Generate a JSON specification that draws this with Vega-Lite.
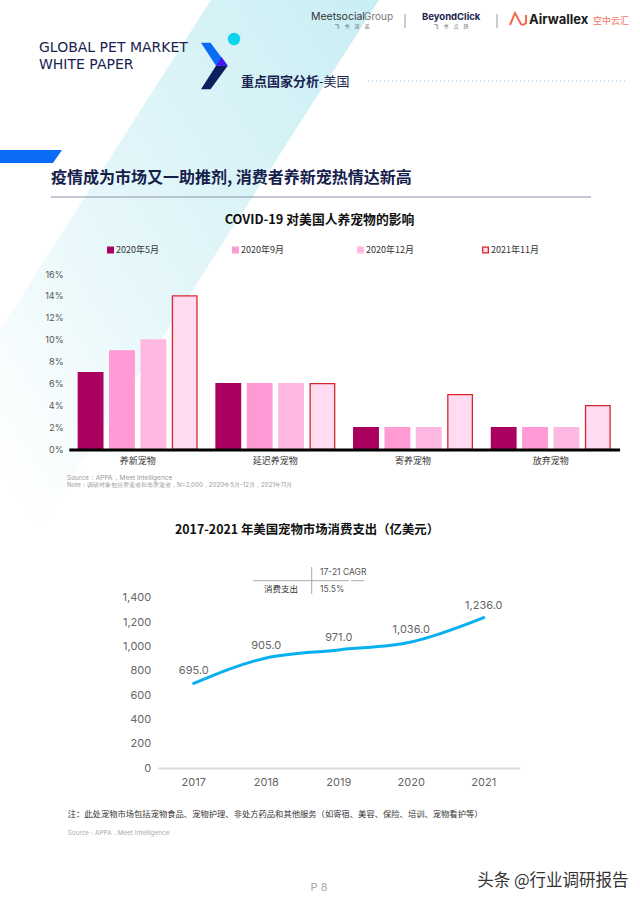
{
  "$schema": "https://vega.github.io/schema/vega-lite/v6.json",
  "width": 640,
  "height": 903,
  "padding": 0,
  "autosize": {"type": "fit", "contains": "padding"},
  "background": "white",
  "config": {"view": {"stroke": null}, "font": "Noto Sans CJK SC"},
  "resolve": {
    "scale": {"x": "independent", "y": "independent"},
    "axis": {"x": "independent", "y": "independent"}
  },
  "layer": [
    {
      "data": {"values": [{"page": 8}]},
      "layer": [
        {
          "mark": {"type": "point", "filled": true, "opacity": 1, "size": 4, "strokeWidth": 0,
            "shape": "M211 0 L379 0 L0 590 L0 330 Z",
            "fill": {"gradient": "linear", "x1": 1, "y1": 0, "x2": 0, "y2": 1, "stops": [
              {"offset": 0, "color": "#c9eef4"},
              {"offset": 0.55, "color": "#e6f7fa"},
              {"offset": 0.9, "color": "#ffffff"}
            ]}},
          "encoding": {
            "x": {"datum": 0, "type": "quantitative", "axis": null, "scale": {"domain": [0, 640], "range": [0, 640], "nice": false, "zero": false}},
            "y": {"datum": 0, "type": "quantitative", "axis": null, "scale": {"domain": [0, 903], "range": [0, 903], "nice": false, "zero": false}}
          }
        },
        {
          "mark": {"type": "point", "filled": true, "opacity": 1, "size": 4, "strokeWidth": 0, "color": "#0a6cf5", "shape": "M0 150 L62 150 L53 163 L0 163 Z"},
          "encoding": {"x": {"datum": 0, "type": "quantitative", "axis": null}, "y": {"datum": 0, "type": "quantitative", "axis": null}}
        },
        {
          "mark": {"type": "point", "filled": true, "opacity": 1, "size": 4, "strokeWidth": 0, "color": "#0a6cf5", "shape": "M201 42.7 L210.5 42.7 L227.7 65.7 L216 65.7 Z"},
          "encoding": {"x": {"datum": 0, "type": "quantitative", "axis": null}, "y": {"datum": 0, "type": "quantitative", "axis": null}}
        },
        {
          "mark": {"type": "point", "filled": true, "opacity": 1, "size": 4, "strokeWidth": 0, "color": "#0b1f5c", "shape": "M216 65.7 L227.7 65.7 L210.5 89.3 L201 89.3 Z"},
          "encoding": {"x": {"datum": 0, "type": "quantitative", "axis": null}, "y": {"datum": 0, "type": "quantitative", "axis": null}}
        },
        {
          "mark": {"type": "point", "filled": true, "opacity": 1, "size": 4, "strokeWidth": 0, "color": "#4a14ee", "shape": "M221.5 57 L227.7 65.7 L216 65.7 Z"},
          "encoding": {"x": {"datum": 0, "type": "quantitative", "axis": null}, "y": {"datum": 0, "type": "quantitative", "axis": null}}
        },
        {
          "mark": {"type": "point", "filled": true, "opacity": 1, "size": 154, "strokeWidth": 0, "color": "#0bd3ee"},
          "encoding": {"x": {"datum": 234, "type": "quantitative", "axis": null}, "y": {"datum": 39, "type": "quantitative", "axis": null}}
        },
        {
          "mark": {"type": "point", "filled": false, "opacity": 1, "size": 4, "strokeWidth": 2, "color": "#f26a4b", "shape": "M-8 6 L-3 -6 L3 5 Q5 7 8 4 L8 -4"},
          "encoding": {"x": {"datum": 518, "type": "quantitative", "axis": null}, "y": {"datum": 19, "type": "quantitative", "axis": null}}
        },
        {
          "mark": {"type": "rule", "color": "#8fc1ee", "strokeWidth": 1, "strokeDash": [1, 3]},
          "encoding": {"x": {"datum": 368, "type": "quantitative", "axis": null}, "x2": {"datum": 628}, "y": {"datum": 81, "type": "quantitative", "axis": null}}
        },
        {
          "mark": {"type": "rule", "color": "#8a90a8", "strokeWidth": 1.2},
          "encoding": {"x": {"datum": 51, "type": "quantitative", "axis": null}, "x2": {"datum": 591}, "y": {"datum": 197, "type": "quantitative", "axis": null}}
        },
        {
          "mark": {"type": "rule", "color": "#999999", "strokeWidth": 1},
          "encoding": {"x": {"datum": 405, "type": "quantitative", "axis": null}, "y": {"datum": 14, "type": "quantitative", "axis": null}, "y2": {"datum": 28}}
        },
        {
          "mark": {"type": "rule", "color": "#999999", "strokeWidth": 1},
          "encoding": {"x": {"datum": 497, "type": "quantitative", "axis": null}, "y": {"datum": 14, "type": "quantitative", "axis": null}, "y2": {"datum": 28}}
        },
        {
          "mark": {"type": "rule", "color": "#aaaaaa", "strokeWidth": 1},
          "encoding": {"x": {"datum": 311.7, "type": "quantitative", "axis": null}, "y": {"datum": 567, "type": "quantitative", "axis": null}, "y2": {"datum": 594}}
        },
        {
          "mark": {"type": "rule", "color": "#aaaaaa", "strokeWidth": 1},
          "encoding": {"x": {"datum": 253, "type": "quantitative", "axis": null}, "x2": {"datum": 349}, "y": {"datum": 580.7, "type": "quantitative", "axis": null}}
        },
        {
          "mark": {"type": "rule", "color": "#aaaaaa", "strokeWidth": 1},
          "encoding": {"x": {"datum": 351, "type": "quantitative", "axis": null}, "x2": {"datum": 364}, "y": {"datum": 580.7, "type": "quantitative", "axis": null}}
        },
        {
          "mark": {"type": "text", "align": "left", "font": "DejaVu Sans", "fontSize": 14, "color": "#1a2350"},
          "encoding": {"x": {"datum": 39, "type": "quantitative", "axis": null}, "y": {"datum": 47.7, "type": "quantitative", "axis": null}, "text": {"value": "GLOBAL PET MARKET"}}
        },
        {
          "mark": {"type": "text", "align": "left", "font": "DejaVu Sans", "fontSize": 14, "color": "#1a2350"},
          "encoding": {"x": {"datum": 39, "type": "quantitative", "axis": null}, "y": {"datum": 65, "type": "quantitative", "axis": null}, "text": {"value": "WHITE PAPER"}}
        },
        {
          "mark": {"type": "text", "align": "left", "fontSize": 13, "fontWeight": "bold", "color": "#1a2350"},
          "encoding": {"x": {"datum": 241, "type": "quantitative", "axis": null}, "y": {"datum": 81.7, "type": "quantitative", "axis": null}, "text": {"value": "重点国家分析"}}
        },
        {
          "mark": {"type": "text", "align": "left", "fontSize": 13, "color": "#1a2350"},
          "encoding": {"x": {"datum": 319, "type": "quantitative", "axis": null}, "y": {"datum": 81.7, "type": "quantitative", "axis": null}, "text": {"value": "-美国"}}
        },
        {
          "mark": {"type": "text", "align": "left", "font": "Inter", "fontSize": 10.5, "color": "#333333"},
          "encoding": {"x": {"datum": 311, "type": "quantitative", "axis": null}, "y": {"datum": 17, "type": "quantitative", "axis": null}, "text": {"value": "Meetsocial"}}
        },
        {
          "mark": {"type": "text", "align": "left", "font": "Inter", "fontSize": 10, "color": "#777777"},
          "encoding": {"x": {"datum": 364, "type": "quantitative", "axis": null}, "y": {"datum": 17, "type": "quantitative", "axis": null}, "text": {"value": "Group"}}
        },
        {
          "mark": {"type": "text", "align": "center", "fontSize": 5, "color": "#666666"},
          "encoding": {"x": {"datum": 352, "type": "quantitative", "axis": null}, "y": {"datum": 26.3, "type": "quantitative", "axis": null}, "text": {"value": "飞　书　深　诺"}}
        },
        {
          "mark": {"type": "text", "align": "left", "font": "Inter", "fontSize": 9.5, "fontWeight": "bold", "color": "#1a2350"},
          "encoding": {"x": {"datum": 422, "type": "quantitative", "axis": null}, "y": {"datum": 17, "type": "quantitative", "axis": null}, "text": {"value": "BeyondClick"}}
        },
        {
          "mark": {"type": "text", "align": "center", "fontSize": 5, "color": "#666666"},
          "encoding": {"x": {"datum": 451, "type": "quantitative", "axis": null}, "y": {"datum": 26.3, "type": "quantitative", "axis": null}, "text": {"value": "飞　书　点　跃"}}
        },
        {
          "mark": {"type": "text", "align": "left", "font": "Inter", "fontSize": 13, "fontWeight": "bold", "color": "#1a1a1a"},
          "encoding": {"x": {"datum": 529, "type": "quantitative", "axis": null}, "y": {"datum": 20, "type": "quantitative", "axis": null}, "text": {"value": "Airwallex"}}
        },
        {
          "mark": {"type": "text", "align": "left", "fontSize": 9, "color": "#f4775e"},
          "encoding": {"x": {"datum": 593, "type": "quantitative", "axis": null}, "y": {"datum": 20.5, "type": "quantitative", "axis": null}, "text": {"value": "空中云汇"}}
        },
        {
          "mark": {"type": "text", "align": "left", "fontSize": 16, "fontWeight": "bold", "color": "#14204a"},
          "encoding": {"x": {"datum": 51, "type": "quantitative", "axis": null}, "y": {"datum": 178, "type": "quantitative", "axis": null}, "text": {"value": "疫情成为市场又一助推剂, 消费者养新宠热情达新高"}}
        },
        {
          "mark": {"type": "text", "align": "center", "fontSize": 12.8, "fontWeight": "bold", "color": "#111111"},
          "encoding": {"x": {"datum": 319.5, "type": "quantitative", "axis": null}, "y": {"datum": 220, "type": "quantitative", "axis": null}, "text": {"value": "COVID-19 对美国人养宠物的影响"}}
        },
        {
          "mark": {"type": "text", "align": "left", "font": "Inter", "fontSize": 6.5, "color": "#999999"},
          "encoding": {"x": {"datum": 67, "type": "quantitative", "axis": null}, "y": {"datum": 477.7, "type": "quantitative", "axis": null}, "text": {"value": "Source：APPA，Meet Intelligence"}}
        },
        {
          "mark": {"type": "text", "align": "left", "font": "Inter", "fontSize": 6.2, "color": "#999999"},
          "encoding": {"x": {"datum": 67, "type": "quantitative", "axis": null}, "y": {"datum": 485, "type": "quantitative", "axis": null}, "text": {"value": "Note：调研对象包括养宠者和非养宠者，N=2,000，2020年5月-12月，2021年11月"}}
        },
        {
          "mark": {"type": "text", "align": "left", "fontSize": 12.4, "fontWeight": "bold", "color": "#111111"},
          "encoding": {"x": {"datum": 175, "type": "quantitative", "axis": null}, "y": {"datum": 529.7, "type": "quantitative", "axis": null}, "text": {"value": "2017-2021 年美国宠物市场消费支出（亿美元）"}}
        },
        {
          "mark": {"type": "text", "align": "left", "font": "Inter", "fontSize": 8.5, "color": "#555555"},
          "encoding": {"x": {"datum": 320, "type": "quantitative", "axis": null}, "y": {"datum": 572, "type": "quantitative", "axis": null}, "text": {"value": "17-21 CAGR"}}
        },
        {
          "mark": {"type": "text", "align": "center", "fontSize": 8.5, "color": "#333333"},
          "encoding": {"x": {"datum": 281, "type": "quantitative", "axis": null}, "y": {"datum": 589, "type": "quantitative", "axis": null}, "text": {"value": "消费支出"}}
        },
        {
          "mark": {"type": "text", "align": "left", "font": "Inter", "fontSize": 8.5, "color": "#555555"},
          "encoding": {"x": {"datum": 320, "type": "quantitative", "axis": null}, "y": {"datum": 589, "type": "quantitative", "axis": null}, "text": {"value": "15.5%"}}
        },
        {
          "mark": {"type": "text", "align": "left", "fontSize": 8.3, "color": "#333333"},
          "encoding": {"x": {"datum": 67.7, "type": "quantitative", "axis": null}, "y": {"datum": 814.7, "type": "quantitative", "axis": null}, "text": {"value": "注：此处宠物市场包括宠物食品、宠物护理、非处方药品和其他服务（如寄宿、美容、保险、培训、宠物看护等）"}}
        },
        {
          "mark": {"type": "text", "align": "left", "font": "Inter", "fontSize": 6.4, "color": "#aaaaaa"},
          "encoding": {"x": {"datum": 67.7, "type": "quantitative", "axis": null}, "y": {"datum": 832.7, "type": "quantitative", "axis": null}, "text": {"value": "Source：APPA，Meet Intelligence"}}
        },
        {
          "mark": {"type": "text", "align": "center", "font": "Inter", "fontSize": 11, "color": "#aaaaaa"},
          "encoding": {"x": {"datum": 319, "type": "quantitative", "axis": null}, "y": {"datum": 887.7, "type": "quantitative", "axis": null}, "text": {"value": "P 8"}}
        },
        {
          "mark": {"type": "text", "align": "right", "fontSize": 16.5, "color": "#333333"},
          "encoding": {"x": {"datum": 628.5, "type": "quantitative", "axis": null}, "y": {"datum": 880.7, "type": "quantitative", "axis": null}, "text": {"value": "头条 @行业调研报告"}}
        }
      ]
    },
    {
      "data": {
        "values": [
          {"category": "养新宠物", "period": "2020年5月", "share": 7},
          {"category": "养新宠物", "period": "2020年9月", "share": 9},
          {"category": "养新宠物", "period": "2020年12月", "share": 10},
          {"category": "养新宠物", "period": "2021年11月", "share": 14},
          {"category": "延迟养宠物", "period": "2020年5月", "share": 6},
          {"category": "延迟养宠物", "period": "2020年9月", "share": 6},
          {"category": "延迟养宠物", "period": "2020年12月", "share": 6},
          {"category": "延迟养宠物", "period": "2021年11月", "share": 6},
          {"category": "寄养宠物", "period": "2020年5月", "share": 2},
          {"category": "寄养宠物", "period": "2020年9月", "share": 2},
          {"category": "寄养宠物", "period": "2020年12月", "share": 2},
          {"category": "寄养宠物", "period": "2021年11月", "share": 5},
          {"category": "放弃宠物", "period": "2020年5月", "share": 2},
          {"category": "放弃宠物", "period": "2020年9月", "share": 2},
          {"category": "放弃宠物", "period": "2020年12月", "share": 2},
          {"category": "放弃宠物", "period": "2021年11月", "share": 4}
        ]
      },
      "mark": {"type": "bar", "strokeWidth": 1.3},
      "encoding": {
        "x": {
          "field": "category", "type": "nominal", "sort": null,
          "scale": {"type": "band", "range": [68.8, 619.6], "padding": 0},
          "axis": {"orient": "bottom", "offset": -453.5, "zindex": 1, "title": null, "domainColor": "#000000", "domainWidth": 3, "ticks": false, "labelAngle": 0, "labelFontSize": 9, "labelColor": "#333333", "labelPadding": 7}
        },
        "xOffset": {
          "field": "period", "type": "nominal", "sort": null,
          "scale": {"domain": ["2020年5月", "2020年9月", "2020年12月", "2021年11月"], "paddingInner": 0.217, "paddingOuter": 0.303}
        },
        "y": {
          "field": "share", "type": "quantitative", "stack": null,
          "scale": {"domain": [0, 16], "range": [449.5, 274], "nice": false},
          "axis": {"orient": "left", "offset": -65, "zindex": 1, "title": null, "domain": false, "ticks": false, "grid": false, "values": [0, 2, 4, 6, 8, 10, 12, 14, 16], "labelExpr": "datum.value + '%'", "labelFont": "Inter", "labelFontSize": 9, "labelColor": "#555555", "labelPadding": 2}
        },
        "color": {
          "field": "period", "type": "nominal",
          "scale": {"domain": ["2020年5月", "2020年9月", "2020年12月", "2021年11月"], "range": ["#aa0060", "#ff9ad5", "#feb9e2", "#ffdcf2"]},
          "legend": {"orient": "none", "legendX": 106, "legendY": 245.5, "direction": "horizontal", "columns": 4, "title": null, "gridAlign": "all", "columnPadding": 66, "symbolType": "square", "symbolSize": 32, "symbolStrokeWidth": 1.3, "labelFontSize": 9, "labelColor": "#333333", "labelOffset": 1}
        },
        "stroke": {
          "field": "period", "type": "nominal",
          "scale": {"domain": ["2020年5月", "2020年9月", "2020年12月", "2021年11月"], "range": ["#aa0060", "#ff9ad5", "#feb9e2", "#d7262e"]},
          "legend": {"orient": "none", "legendX": 106, "legendY": 245.5, "direction": "horizontal", "columns": 4, "title": null, "gridAlign": "all", "columnPadding": 66, "symbolType": "square", "symbolSize": 32, "symbolStrokeWidth": 1.3, "labelFontSize": 9, "labelColor": "#333333", "labelOffset": 1}
        }
      }
    },
    {
      "data": {
        "values": [
          {"year": "2017", "spend": 695},
          {"year": "2018", "spend": 905},
          {"year": "2019", "spend": 971},
          {"year": "2020", "spend": 1036},
          {"year": "2021", "spend": 1236}
        ]
      },
      "encoding": {
        "x": {
          "field": "year", "type": "ordinal",
          "scale": {"type": "band", "range": [157.5, 520], "padding": 0},
          "axis": {"orient": "bottom", "offset": -135, "zindex": 1, "title": null, "domainColor": "#dddddd", "domainWidth": 2, "ticks": false, "labelAngle": 0, "labelFont": "Inter", "labelFontSize": 11, "labelColor": "#666666", "labelPadding": 8}
        },
        "y": {
          "field": "spend", "type": "quantitative",
          "scale": {"domain": [0, 1400], "range": [768, 597.7], "nice": false},
          "axis": {"orient": "left", "offset": -152.7, "zindex": 1, "title": null, "domain": false, "ticks": false, "grid": false, "values": [0, 200, 400, 600, 800, 1000, 1200, 1400], "format": ",d", "labelFont": "Inter", "labelFontSize": 11, "labelColor": "#666666", "labelPadding": 2}
        }
      },
      "layer": [
        {"mark": {"type": "line", "interpolate": "monotone", "color": "#08b0ef", "strokeWidth": 3, "strokeCap": "round"}},
        {
          "mark": {"type": "text", "font": "Inter", "fontSize": 11, "color": "#666666", "dy": -12},
          "encoding": {"text": {"field": "spend", "type": "quantitative", "format": ",.1f"}}
        }
      ]
    }
  ]
}
